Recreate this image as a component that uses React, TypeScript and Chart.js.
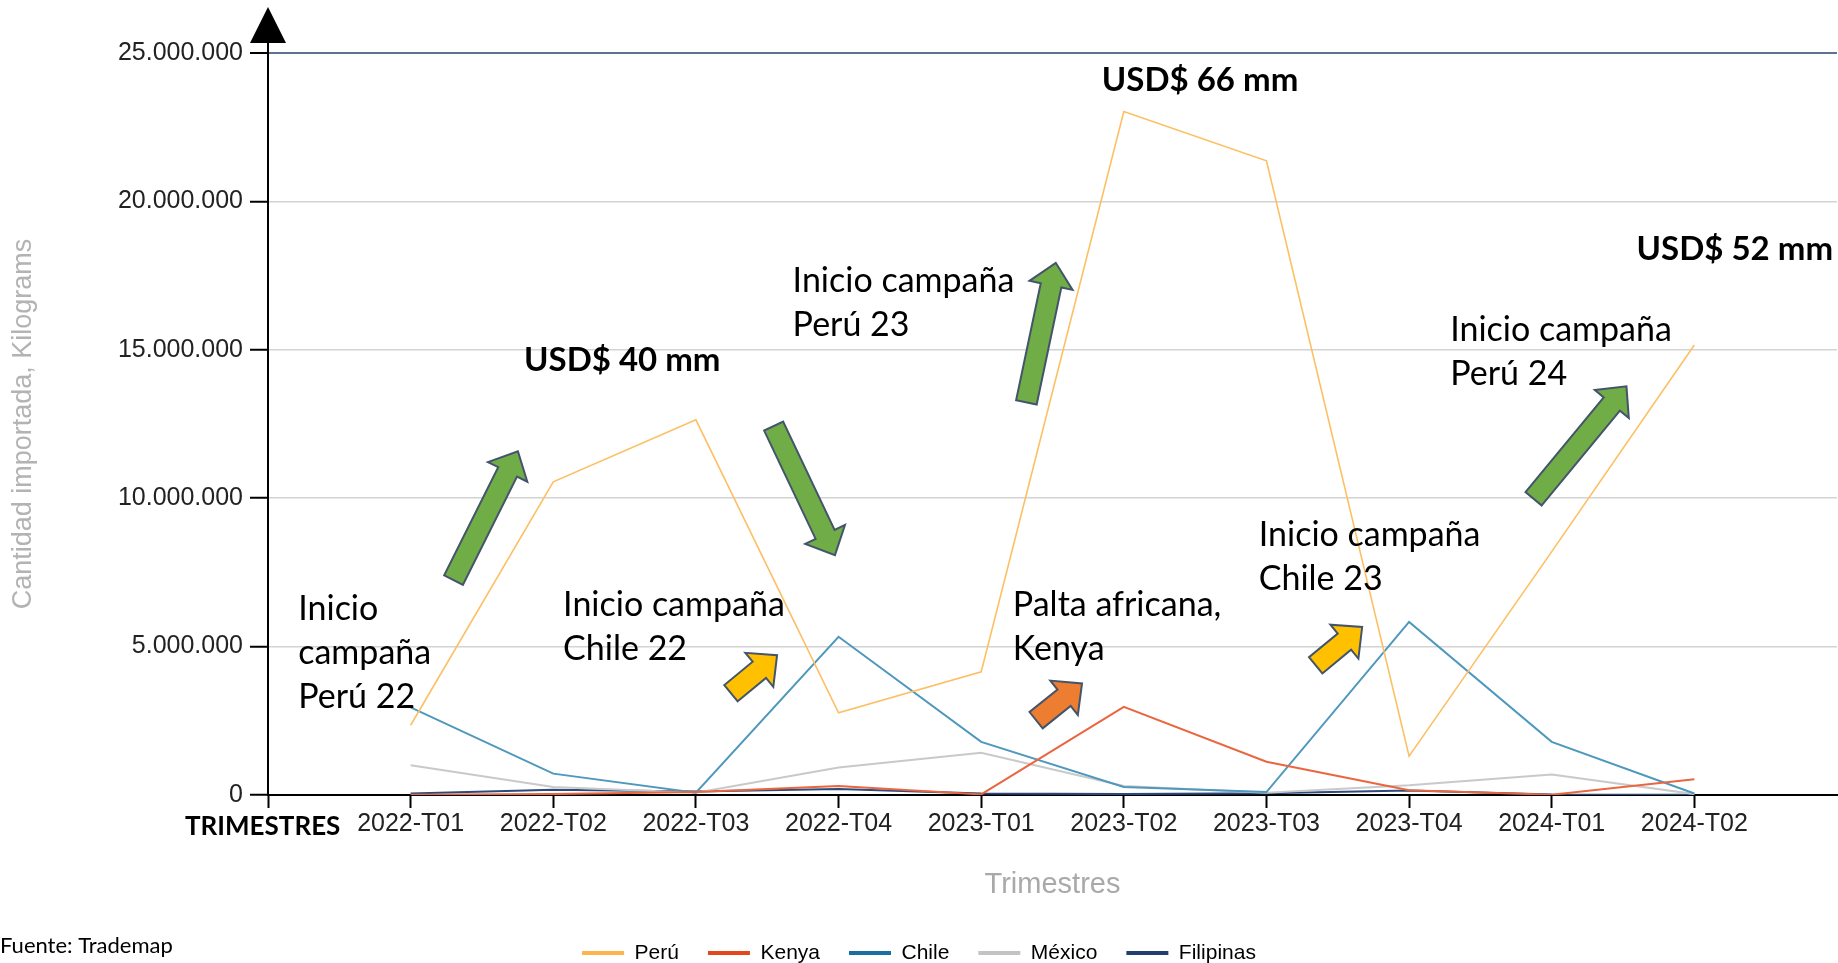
import React, { useEffect, useRef } from 'react';
import { Chart, registerables } from 'chart.js';

Chart.register(...registerables);

// ---------------- DATA ----------------
const categories = [
  '2022-T01', '2022-T02', '2022-T03', '2022-T04',
  '2023-T01', '2023-T02', '2023-T03', '2023-T04',
  '2024-T01', '2024-T02',
];

const peru = [2350000, 10550000, 12640000, 2770000, 4150000, 23030000, 21370000, 1310000, 8200000, 15160000];
const kenya = [10000, 30000, 100000, 300000, 20000, 2970000, 1120000, 160000, 10000, 530000];
const chile = [2950000, 720000, 80000, 5330000, 1790000, 270000, 100000, 5830000, 1790000, 50000];
const mexico = [1000000, 270000, 80000, 930000, 1420000, 300000, 80000, 330000, 690000, 30000];
const filipinas = [50000, 180000, 120000, 200000, 50000, 30000, 60000, 150000, 20000, 10000];

const seriesNames = ['Perú', 'Kenya', 'Chile', 'México', 'Filipinas'];
const seriesValues = [peru, kenya, chile, mexico, filipinas];
const lineColors = ['#fdbf63', '#e9663f', '#4f98bd', '#c9c9c9', '#2c4a7c'];
const legendColors = ['#fdb44b', '#e2481c', '#1b6fa0', '#c3c3c3', '#233f6e'];
const lineWidths = [1.6, 2, 2, 2, 2];

const yMin = 0;
const yMax = 25000000;
const yStep = 5000000;

const yTitle = 'Cantidad importada, Kilograms';
const xTitle = 'Trimestres';

// annotations placed in data coordinates (x = category index, y = value)
type Note = { x: number; y: number; lines: string[]; bold?: boolean };
const notes: Note[] = [
  { x: -0.788, y: 5890000, lines: ['Inicio', 'campaña', 'Perú 22'] },
  { x: 1.069, y: 6040000, lines: ['Inicio campaña', 'Chile 22'] },
  { x: 2.678, y: 16960000, lines: ['Inicio campaña', 'Perú 23'] },
  { x: 0.795, y: 14280000, lines: ['USD$ 40 mm'], bold: true },
  { x: 4.846, y: 23710000, lines: ['USD$ 66 mm'], bold: true },
  { x: 8.595, y: 18020000, lines: ['USD$ 52 mm'], bold: true },
  { x: 4.222, y: 6020000, lines: ['Palta africana,', 'Kenya'] },
  { x: 5.946, y: 8380000, lines: ['Inicio campaña', 'Chile 23'] },
  { x: 7.288, y: 15310000, lines: ['Inicio campaña', 'Perú 24'] },
];

type Arrow = { from: [number, number]; to: [number, number]; color: string };
const GREEN = '#70ad47';
const YELLOW = '#ffc000';
const ORANGE = '#ed7d31';
const arrows: Arrow[] = [
  { from: [0.301, 7240000], to: [0.752, 11580000], color: GREEN },
  { from: [2.545, 12430000], to: [2.975, 8080000], color: GREEN },
  { from: [4.317, 13230000], to: [4.523, 17930000], color: GREEN },
  { from: [7.873, 9980000], to: [8.524, 13770000], color: GREEN },
  { from: [2.246, 3430000], to: [2.569, 4710000], color: YELLOW },
  { from: [4.385, 2520000], to: [4.707, 3760000], color: ORANGE },
  { from: [6.345, 4370000], to: [6.671, 5660000], color: YELLOW },
];

const axisCaption = 'TRIMESTRES';
const sourceNote = 'Fuente: Trademap';

// ---------------- HELPERS ----------------
const fmt = (v: number) => String(Math.round(v)).replace(/\B(?=(\d{3})+(?!\d))/g, '.');
const BASE_FONT = "'Liberation Sans', Arial, sans-serif";
const NOTE_FONT = "Lato, 'Open Sans', sans-serif";

function blockArrow(ctx: CanvasRenderingContext2D, x0: number, y0: number, x1: number, y1: number, fill: string) {
  const dx = x1 - x0;
  const dy = y1 - y0;
  const L = Math.hypot(dx, dy);
  const ux = dx / L;
  const uy = dy / L;
  const nx = -uy;
  const ny = ux;
  const sw = 10.5;
  const hw = 22;
  const hl = 23;
  const bx = x1 - ux * hl;
  const by = y1 - uy * hl;
  ctx.beginPath();
  ctx.moveTo(x0 + nx * sw, y0 + ny * sw);
  ctx.lineTo(bx + nx * sw, by + ny * sw);
  ctx.lineTo(bx + nx * hw, by + ny * hw);
  ctx.lineTo(x1, y1);
  ctx.lineTo(bx - nx * hw, by - ny * hw);
  ctx.lineTo(bx - nx * sw, by - ny * sw);
  ctx.lineTo(x0 - nx * sw, y0 - ny * sw);
  ctx.closePath();
  ctx.fillStyle = fill;
  ctx.fill();
  ctx.strokeStyle = '#44546a';
  ctx.lineWidth = 2;
  ctx.lineJoin = 'miter';
  ctx.stroke();
}

const annotationPlugin = {
  id: 'annotations',
  afterDatasetsDraw(chart: any) {
    const { ctx } = chart;
    const xs = chart.scales.x;
    const ys = chart.scales.y;
    ctx.save();
    for (const a of arrows) {
      blockArrow(
        ctx,
        xs.getPixelForValue(a.from[0]), ys.getPixelForValue(a.from[1]),
        xs.getPixelForValue(a.to[0]), ys.getPixelForValue(a.to[1]),
        a.color,
      );
    }
    ctx.fillStyle = '#000';
    ctx.textAlign = 'left';
    ctx.textBaseline = 'alphabetic';
    for (const n of notes) {
      ctx.font = n.bold ? `bold 33px ${NOTE_FONT}` : `34px ${NOTE_FONT}`;
      const px = xs.getPixelForValue(n.x);
      const py = ys.getPixelForValue(n.y);
      n.lines.forEach((t, i) => ctx.fillText(t, px, py + i * 44));
    }
    ctx.restore();
  },
  afterDraw(chart: any) {
    const { ctx, chartArea } = chart;
    const left = chartArea.left;
    const top = chartArea.top;
    ctx.save();
    // y-axis arrow head
    ctx.strokeStyle = '#000';
    ctx.lineWidth = 2;
    ctx.beginPath();
    ctx.moveTo(left, top);
    ctx.lineTo(left, top - 12);
    ctx.stroke();
    ctx.fillStyle = '#000';
    ctx.beginPath();
    ctx.moveTo(left, top - 46);
    ctx.lineTo(left - 18, top - 10);
    ctx.lineTo(left + 18, top - 10);
    ctx.closePath();
    ctx.fill();
    // captions
    ctx.fillStyle = '#000';
    ctx.textAlign = 'left';
    ctx.textBaseline = 'alphabetic';
    ctx.font = `bold 26px ${NOTE_FONT}`;
    ctx.fillText(axisCaption, left - 83, chartArea.bottom + 40);
    ctx.font = `22px ${NOTE_FONT}`;
    ctx.fillText(sourceNote, 0, chart.height - 10);
    ctx.restore();
  },
};

export default function App() {
  const ref = useRef<HTMLCanvasElement>(null);

  useEffect(() => {
    const canvas = ref.current;
    if (!canvas) return;
    Chart.defaults.font.family = BASE_FONT;

    const chart = new Chart(canvas, {
      type: 'line',
      data: {
        datasets: seriesNames.map((name, i) => ({
          label: name,
          data: seriesValues[i].map((v, k) => ({ x: k, y: v })),
          borderColor: lineColors[i],
          backgroundColor: legendColors[i],
          borderWidth: lineWidths[i],
          pointRadius: 0,
          pointHoverRadius: 0,
          tension: 0,
          fill: false,
        })),
      },
      options: {
        animation: false,
        responsive: true,
        maintainAspectRatio: false,
        layout: { padding: { top: 53, left: 0, right: 0, bottom: -10.5 } },
        plugins: {
          tooltip: { enabled: false },
          legend: {
            position: 'bottom',
            labels: {
              boxWidth: 42,
              boxHeight: 4,
              padding: 29,
              color: '#333',
              font: { family: BASE_FONT, size: 21 },
              generateLabels: (ch: any) =>
                ch.data.datasets.map((ds: any, i: number) => ({
                  text: ds.label,
                  fillStyle: legendColors[i],
                  strokeStyle: legendColors[i],
                  lineWidth: 0,
                  hidden: false,
                  datasetIndex: i,
                })),
            },
          },
        },
        scales: {
          x: {
            type: 'linear',
            min: -1,
            max: categories.length,
            afterFit: (s: any) => { s.height = 118.5; },
            ticks: {
              stepSize: 1,
              autoSkip: false,
              maxRotation: 0,
              minRotation: 0,
              padding: 1,
              color: '#222',
              font: { family: BASE_FONT, size: 25 },
              callback: (v: any) => categories[v as number] ?? '',
            },
            grid: {
              drawOnChartArea: false,
              drawTicks: true,
              tickLength: 13,
              tickWidth: 2,
              tickColor: (c: any) => (c.tick && c.tick.value >= categories.length ? 'rgba(0,0,0,0)' : '#000'),
            },
            border: { display: true, color: '#000', width: 2 },
            title: {
              display: true,
              text: xTitle,
              color: '#a9a9a9',
              font: { family: BASE_FONT, size: 29 },
              padding: { top: 0, bottom: 11 },
            },
          },
          y: {
            min: yMin,
            max: yMax,
            afterFit: (s: any) => { s.width = 268; },
            ticks: {
              stepSize: yStep,
              padding: 7,
              color: '#222',
              font: { family: BASE_FONT, size: 25 },
              callback: (v: any) => fmt(Number(v)),
            },
            grid: {
              color: (c: any) => (c.tick && c.tick.value === yMax ? '#5d7290' : '#d3d3d3'),
              lineWidth: (c: any) => (c.tick && c.tick.value === yMax ? 2 : 1.5),
              tickColor: '#000',
              tickLength: 18,
              tickWidth: 2,
            },
            border: { display: true, color: '#000', width: 2 },
            title: {
              display: true,
              text: yTitle,
              color: '#b3b3b3',
              font: { family: BASE_FONT, size: 27 },
              padding: { top: 7, bottom: 0 },
            },
          },
        },
      } as any,
      plugins: [annotationPlugin],
    });

    return () => chart.destroy();
  }, []);

  return (
    <div style={{ position: 'absolute', left: 0, top: 0, width: 1838, height: 963, background: '#fff' }}>
      <canvas ref={ref} />
    </div>
  );
}
